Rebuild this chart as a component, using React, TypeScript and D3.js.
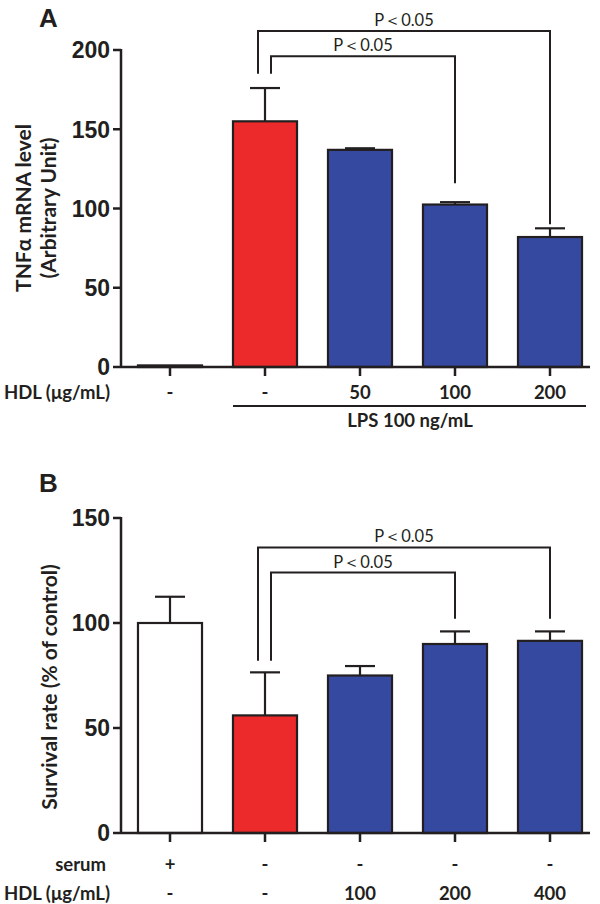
import React from 'react';
import { scaleBand, scaleLinear } from 'd3';

// Panel A: TNFα mRNA
const hdlA = ['-', '-', '50', '100', '200'];
const tnfValues = [1, 155, 137, 102.5, 82];
const tnfErrors = [0, 21, 1, 1.5, 5.5];
const tnfTicks = [0, 50, 100, 150, 200];

// Panel B: survival
const serumB = ['+', '-', '-', '-', '-'];
const hdlB = ['-', '-', '100', '200', '400'];
const survValues = [100, 56, 75, 90, 91.5];
const survErrors = [12.5, 20.5, 4.5, 6, 4.5];
const survTicks = [0, 50, 100, 150];

// brackets: [leftBar, rightBar, level, leftLegEnd, rightLegEnd, leftOffset]
const bracketsA: [number, number, number, number, number, number][] = [
    [1, 4, 212, 185, 90, -7],
    [1, 3, 196, 185, 116, 6],
];
const bracketsB: [number, number, number, number, number, number][] = [
    [1, 4, 136, 82, 102, -7],
    [1, 3, 124, 82, 102, 6],
];

const RED = '#ec2a2b';
const BLUE = '#3549a0';
const INK = '#231f20';
const numFont = '"Liberation Sans", Arial, sans-serif';
const labFont = 'Lato, "Open Sans", sans-serif';

const x = scaleBand<number>()
    .domain([0, 1, 2, 3, 4])
    .range([122.5, 597.5])
    .paddingInner(0.326)
    .paddingOuter(0.163);

const axisX = 121;
const axisEnd = 590;

const fillFor = (i: number, whiteFirst: boolean) =>
    i === 0 ? (whiteFirst ? '#fff' : INK) : i === 1 ? RED : BLUE;

interface PanelProps {
    values: number[];
    errors: number[];
    ticks: number[];
    domainMax: number;
    top: number;
    bottom: number;
    brackets: [number, number, number, number, number, number][];
    whiteFirst: boolean;
}

const Panel: React.FC<PanelProps> = ({ values, errors, ticks, domainMax, top, bottom, brackets, whiteFirst }) => {
    const y = scaleLinear().domain([0, domainMax]).range([bottom, top]);
    const bw = x.bandwidth();
    const cx = (i: number) => (x(i) as number) + bw / 2;

    return (
        <g>
            {/* bars */}
            {values.map((v, i) => (
                <rect key={i} x={x(i) as number} y={y(v)} width={bw} height={bottom - y(v)}
                    fill={fillFor(i, whiteFirst)} stroke={INK} strokeWidth={2.2} />
            ))}
            {/* error bars */}
            {values.map((v, i) =>
                errors[i] > 0 ? (
                    <g key={i} stroke={INK} strokeWidth={2.2}>
                        <line x1={cx(i)} x2={cx(i)} y1={y(v)} y2={y(v + errors[i])} />
                        <line x1={cx(i) - 15} x2={cx(i) + 15} y1={y(v + errors[i])} y2={y(v + errors[i])} />
                    </g>
                ) : null
            )}
            {/* y axis */}
            <line x1={axisX} x2={axisX} y1={y(domainMax) - 1} y2={bottom + 1} stroke={INK} strokeWidth={2.5} />
            {ticks.map(t => (
                <g key={t}>
                    <line x1={axisX - 8} x2={axisX} y1={y(t)} y2={y(t)} stroke={INK} strokeWidth={2.5} />
                    <text x={axisX - 11} y={y(t)} dy="0.36em" textAnchor="end"
                        fontFamily={numFont} fontWeight="bold" fontSize={23} fill={INK}>{t}</text>
                </g>
            ))}
            {/* x axis */}
            <line x1={axisX} x2={axisEnd} y1={bottom} y2={bottom} stroke={INK} strokeWidth={2.5} />
            {values.map((_, i) => (
                <line key={i} x1={cx(i)} x2={cx(i)} y1={bottom} y2={bottom + 9} stroke={INK} strokeWidth={2.5} />
            ))}
            {/* significance brackets */}
            {brackets.map(([a, b, lvl, le, re, off], k) => {
                const xl = cx(a) + off;
                const xr = cx(b);
                return (
                    <g key={k}>
                        <path d={`M${xl},${y(le)}V${y(lvl)}H${xr}V${y(re)}`} fill="none" stroke={INK} strokeWidth={2} />
                        <text x={(xl + xr) / 2} y={y(lvl) - 5} textAnchor="middle"
                            fontFamily={labFont} fontSize={16.5} fill={INK}>P＜0.05</text>
                    </g>
                );
            })}
        </g>
    );
};

const App: React.FC = () => {
    const cx = (i: number) => (x(i) as number) + x.bandwidth() / 2;
    const rowText = (items: string[], yy: number) =>
        items.map((s, i) => (
            <text key={i} x={cx(i)} y={yy} textAnchor="middle" fontFamily={labFont}
                fontWeight="bold" fontSize={18.5} fill={INK}>{s}</text>
        ));

    return (
        <svg width={600} height={904} style={{ position: 'absolute', left: 0, top: 0, background: '#fff' }}>
            <rect width={600} height={904} fill="#fff" />

            {/* Panel A */}
            <text x={39} y={27} fontFamily={numFont} fontWeight="bold" fontSize={26} fill={INK}>A</text>
            <g transform="translate(31,208) rotate(-90)">
                <text textAnchor="middle" fontFamily={labFont} fontWeight="bold" fontSize={21} fill={INK}>TNFα mRNA level</text>
                <text y={25} textAnchor="middle" fontFamily={labFont} fontWeight="bold" fontSize={21} fill={INK}>(Arbitrary Unit)</text>
            </g>
            <Panel values={tnfValues} errors={tnfErrors} ticks={tnfTicks} domainMax={200}
                top={50} bottom={367} brackets={bracketsA} whiteFirst={false} />
            <text x={4} y={399} fontFamily={labFont} fontWeight="bold" fontSize={18.5} fill={INK}>HDL (μg/mL)</text>
            {rowText(hdlA, 399)}
            <line x1={233} x2={586} y1={406} y2={406} stroke={INK} strokeWidth={2} />
            <text x={410} y={427} textAnchor="middle" fontFamily={labFont} fontWeight="bold" fontSize={18.5} fill={INK}>LPS 100 ng/mL</text>

            {/* Panel B */}
            <text x={39} y={492} fontFamily={numFont} fontWeight="bold" fontSize={26} fill={INK}>B</text>
            <g transform="translate(57,687) rotate(-90)">
                <text textAnchor="middle" fontFamily={labFont} fontWeight="bold" fontSize={21} fill={INK}>Survival rate (% of control)</text>
            </g>
            <Panel values={survValues} errors={survErrors} ticks={survTicks} domainMax={150}
                top={518} bottom={833} brackets={bracketsB} whiteFirst={true} />
            <text x={106} y={871} textAnchor="end" fontFamily={labFont} fontWeight="bold" fontSize={18.5} fill={INK}>serum</text>
            {rowText(serumB, 871)}
            <text x={4} y={900} fontFamily={labFont} fontWeight="bold" fontSize={18.5} fill={INK}>HDL (μg/mL)</text>
            {rowText(hdlB, 900)}
        </svg>
    );
};

export default App;
